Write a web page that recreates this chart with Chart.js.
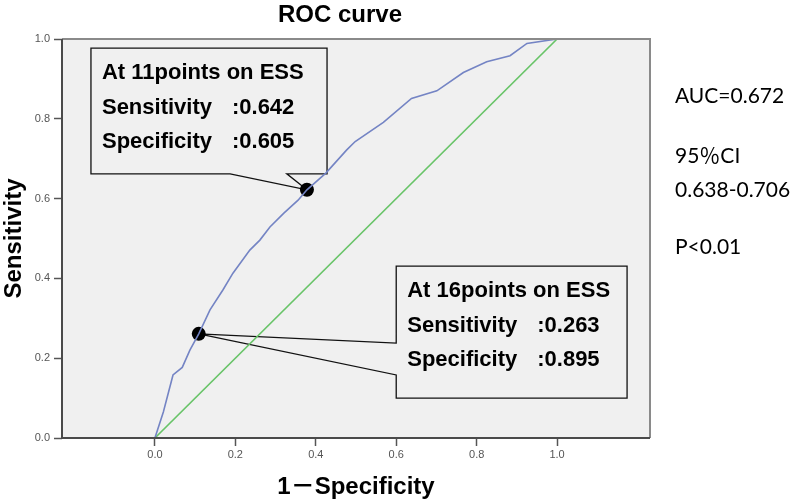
<!DOCTYPE html>
<html lang="en">
<head>
  <meta charset="UTF-8" />
  <title>ROC curve</title>
  <script src="https://cdn.jsdelivr.net/npm/chart.js"></script>
  <style>
    html, body { margin: 0; padding: 0; background: #fff; }
  </style>
</head>
<body>
  <canvas id="roc" width="799" height="502"></canvas>
  <script>
    // ROC curve points: 1 - specificity / sensitivity
    const fpr = [0, 0.021, 0.045, 0.068, 0.087, 0.109, 0.137, 0.169, 0.194, 0.236, 0.261, 0.286, 0.32, 0.356, 0.378,
      0.425, 0.477, 0.498, 0.568, 0.638, 0.701, 0.767, 0.825, 0.883, 0.925, 1.0];
    const tpr = [0, 0.065, 0.158, 0.177, 0.22, 0.261, 0.321, 0.371, 0.413, 0.471, 0.496, 0.529, 0.563, 0.596, 0.622,
      0.664, 0.722, 0.743, 0.791, 0.851, 0.870, 0.916, 0.943, 0.958, 0.989, 1.0];

    // reference (chance) line
    const diagX = [0, 1];
    const diagY = [0, 1];

    // the two marked cut-off points
    const cutX = [0.378, 0.109];
    const cutY = [0.622, 0.261];
    const cutTitles = ['At 11points on ESS', 'At 16points on ESS'];
    const cutSens = ['0.642', '0.263'];
    const cutSpec = ['0.605', '0.895'];

    const xTicks = [0, 0.2, 0.4, 0.6, 0.8, 1.0];
    const yTicks = [0, 0.2, 0.4, 0.6, 0.8, 1.0];

    const statsText = ['AUC=0.672', '95％CI', '0.638-0.706', 'P<0.01'];

    const FONT = "'Liberation Sans', Arial, 'Noto Sans CJK JP', sans-serif";

    // callout boxes (in axis units) and where the pointer leaves the box
    const boxes = [
      { x0: -0.159, x1: 0.428, y0: 0.662, y1: 0.977, side: 'bottom', g0: 0.187, g1: 0.328 },
      { x0: 0.600, x1: 1.174, y0: 0.100, y1: 0.431, side: 'left', g0: 0.158, g1: 0.238 }
    ];
    const statsY = [103, 163, 197, 254];

    const rocDecor = {
      id: 'rocDecor',
      beforeDraw(chart) {
        const a = chart.chartArea, ctx = chart.ctx;
        ctx.save();
        ctx.fillStyle = '#f0f0f0';
        ctx.fillRect(a.left, a.top, a.right - a.left, a.bottom - a.top);
        ctx.restore();
      },
      beforeDatasetsDraw(chart) {
        const ctx = chart.ctx, xs = chart.scales.x, ys = chart.scales.y;
        ctx.save();
        boxes.forEach((b, i) => {
          const l = xs.getPixelForValue(b.x0), r = xs.getPixelForValue(b.x1);
          const t = ys.getPixelForValue(b.y1), bt = ys.getPixelForValue(b.y0);
          const px = xs.getPixelForValue(cutX[i]), py = ys.getPixelForValue(cutY[i]);
          ctx.beginPath();
          if (b.side === 'bottom') {
            const ga = xs.getPixelForValue(b.g0), gb = xs.getPixelForValue(b.g1);
            ctx.moveTo(l, t); ctx.lineTo(r, t); ctx.lineTo(r, bt); ctx.lineTo(gb, bt);
            ctx.lineTo(px, py); ctx.lineTo(ga, bt); ctx.lineTo(l, bt);
          } else {
            const ga = ys.getPixelForValue(b.g0), gb = ys.getPixelForValue(b.g1);
            ctx.moveTo(l, t); ctx.lineTo(r, t); ctx.lineTo(r, bt); ctx.lineTo(l, bt);
            ctx.lineTo(l, ga); ctx.lineTo(px, py); ctx.lineTo(l, gb);
          }
          ctx.closePath();
          ctx.fillStyle = '#f0f0f0';
          ctx.fill();
          ctx.strokeStyle = '#111';
          ctx.lineWidth = 1.3;
          ctx.stroke();

          ctx.fillStyle = '#000';
          ctx.font = 'bold 22px ' + FONT;
          ctx.textBaseline = 'alphabetic';
          ctx.textAlign = 'left';
          ctx.fillText(cutTitles[i], l + 11, t + 31);
          ctx.fillText('Sensitivity', l + 11, t + 66);
          ctx.fillText(':' + cutSens[i], l + 141, t + 66);
          ctx.fillText('Specificity', l + 11, t + 100);
          ctx.fillText(':' + cutSpec[i], l + 141, t + 100);
        });
        ctx.restore();
      },
      afterDatasetsDraw(chart) {
        const a = chart.chartArea, ctx = chart.ctx;
        ctx.save();
        ctx.lineWidth = 2;
        ctx.strokeStyle = '#8a8a8a';
        ctx.beginPath();
        ctx.moveTo(a.left, a.top); ctx.lineTo(a.right, a.top); ctx.lineTo(a.right, a.bottom);
        ctx.stroke();
        ctx.strokeStyle = '#4a4a4a';
        ctx.beginPath();
        ctx.moveTo(a.left, a.top); ctx.lineTo(a.left, a.bottom); ctx.lineTo(a.right, a.bottom);
        ctx.stroke();
        ctx.restore();
      },
      afterDraw(chart) {
        const ctx = chart.ctx;
        ctx.save();
        ctx.fillStyle = '#000';
        ctx.textAlign = 'center';
        ctx.textBaseline = 'alphabetic';
        ctx.font = 'bold 24px ' + FONT;
        ctx.fillText('ROC curve', 340, 22);
        ctx.textAlign = 'left';
        ctx.font = "21px Lato, 'Noto Sans CJK JP', sans-serif";
        statsText.forEach((s, i) => ctx.fillText(s, 675, statsY[i]));
        ctx.restore();
      }
    };

    const tickFmt = v => Number(v).toFixed(1);

    new Chart(document.getElementById('roc'), {
      type: 'scatter',
      data: {
        datasets: [
          {
            label: 'ROC',
            data: fpr.map((x, i) => ({ x: x, y: tpr[i] })),
            showLine: true,
            borderColor: '#7484c4',
            borderWidth: 1.6,
            pointRadius: 0,
            tension: 0
          },
          {
            label: 'Reference',
            data: diagX.map((x, i) => ({ x: x, y: diagY[i] })),
            showLine: true,
            borderColor: '#68c468',
            borderWidth: 1.6,
            pointRadius: 0
          },
          {
            label: 'Cut-off',
            data: cutX.map((x, i) => ({ x: x, y: cutY[i] })),
            pointRadius: 7,
            pointBackgroundColor: '#000',
            pointBorderColor: '#000',
            borderWidth: 0
          }
        ]
      },
      options: {
        responsive: false,
        animation: false,
        devicePixelRatio: 1,
        layout: { padding: { top: 39, right: 149, left: 0, bottom: 0 } },
        plugins: {
          legend: { display: false },
          tooltip: { enabled: false },
          title: { display: false }
        },
        scales: {
          x: {
            type: 'linear',
            min: -0.231,
            max: 1.231,
            afterBuildTicks: s => { s.ticks = xTicks.map(v => ({ value: v })); },
            afterFit: s => { s.height = 64; },
            ticks: {
              callback: tickFmt,
              autoSkip: false,
              maxRotation: 0,
              padding: 2,
              color: '#555',
              font: { family: FONT, size: 11 }
            },
            grid: { drawOnChartArea: false, tickLength: 8, tickColor: '#555', tickWidth: 1.5 },
            border: { display: false },
            title: {
              display: true,
              text: '1－Specificity',
              color: '#000',
              font: { family: FONT, size: 24, weight: 'bold' },
              padding: { top: 1, bottom: 0 }
            }
          },
          y: {
            type: 'linear',
            min: 0,
            max: 1,
            afterBuildTicks: s => { s.ticks = yTicks.map(v => ({ value: v })); },
            afterFit: s => { s.width = 62; },
            ticks: {
              callback: tickFmt,
              padding: 4,
              color: '#555',
              font: { family: FONT, size: 11 }
            },
            grid: { drawOnChartArea: false, tickLength: 8, tickColor: '#555', tickWidth: 1.5 },
            border: { display: false },
            title: {
              display: true,
              text: 'Sensitivity',
              color: '#000',
              font: { family: FONT, size: 24, weight: 'bold' },
              padding: { top: 0, bottom: 0 }
            }
          }
        }
      },
      plugins: [rocDecor]
    });
  </script>
</body>
</html>
